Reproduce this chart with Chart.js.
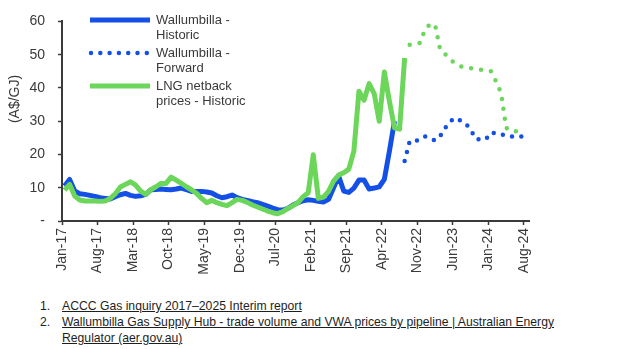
<!DOCTYPE html>
<html>
<head>
<meta charset="utf-8">
<script src="https://cdn.jsdelivr.net/npm/chart.js@4.4.1/dist/chart.umd.min.js"></script>
<style>
    body { margin: 0; background: #fff; }
    #wrap { position: relative; width: 620px; height: 349px; overflow: hidden; }
    #price-chart { position: absolute; left: 0; top: 0; }
    .notes {
        position: absolute; left: 0; top: 298px; width: 620px;
        font-family: "Liberation Sans", Arial, sans-serif; font-size: 12.2px; line-height: 16px;
        color: #1e1e1e;
    }
    .note { position: relative; padding-left: 62px; white-space: nowrap; }
    .note .num { position: absolute; left: 40px; }
    .note .ref { text-decoration: underline; }
</style>
</head>
<body>
<div id="wrap">
    <canvas id="price-chart" width="620" height="292"></canvas>
    <div class="notes">
        <div class="note"><span class="num">1.</span><span class="ref">ACCC Gas inquiry 2017–2025 Interim report</span></div>
        <div class="note"><span class="num">2.</span><span class="ref">Wallumbilla Gas Supply Hub - trade volume and VWA prices by pipeline | Australian Energy<br>Regulator (aer.gov.au)</span></div>
    </div>
</div>
<script>
// month index 0 = Jan-17, one tick label every 7 months
const tickLabels = ['Jan-17', 'Aug-17', 'Mar-18', 'Oct-18', 'May-19', 'Dec-19', 'Jul-20',
    'Feb-21', 'Sep-21', 'Apr-22', 'Nov-22', 'Jun-23', 'Jan-24', 'Aug-24'];
const yTicks = [0, 10, 20, 30, 40, 50, 60];

// monthly prices, A$/GJ
const wallumbillaHistoricStart = 0;
const wallumbillaHistoric = [
    10.5, 12.5, 9.0, 8.2, 8.0, 7.7, 7.4, 7.0, 6.8, 6.6,
    7.3, 7.9, 8.3, 7.7, 7.4, 7.6, 8.0, 9.4, 9.5, 9.6,
    9.5, 9.4, 9.6, 9.9, 9.4, 8.9, 8.9, 8.9, 8.7, 8.4,
    7.6, 7.0, 7.3, 7.8, 7.0, 6.5, 6.2, 5.8, 5.5, 5.0,
    4.5, 3.9, 3.4, 3.3, 3.8, 4.8, 5.5, 6.1, 6.4, 6.2,
    5.9, 5.7, 6.5, 10.0, 13.5, 9.0, 8.6, 9.9, 12.3, 12.3,
    9.6, 9.9, 10.3, 12.5, 21.0, 30.0
];
const wallumbillaForwardStart = 67;
const wallumbillaForward = [
    18.0, 24.0, 24.1, 24.4, 25.4, 24.8, 24.2, 25.5, 28.0, 30.0,
    31.0, 30.2, 29.3, 27.5, 24.7, 24.5, 24.6, 26.6, 26.3, 26.0,
    25.7, 25.4, 25.4, 25.4
];
const lngHistoricStart = 0;
const lngHistoric = [
    9.3, 11.0, 7.5, 6.3, 6.0, 6.0, 6.0, 5.9, 6.0, 6.8,
    8.2, 10.2, 11.0, 11.8, 10.8, 9.0, 8.0, 9.4, 10.3, 11.3,
    11.3, 13.2, 12.3, 11.3, 10.3, 9.4, 8.3, 6.8, 5.5, 6.2,
    5.5, 5.0, 4.6, 5.5, 6.5, 6.2, 5.6, 4.8, 4.2, 3.6,
    3.0, 2.5, 2.2, 2.8, 3.8, 4.6, 5.5, 7.3, 8.5, 19.9,
    6.8, 7.2, 8.9, 12.0, 13.8, 14.5, 15.6, 21.0, 39.0, 36.3,
    41.3, 38.3, 30.0, 44.8, 36.0, 28.0, 27.6, 49.0
];
const lngForwardStart = 68;
const lngForward = [
    53.0, 53.2, 53.5, 57.5, 59.2, 59.0, 51.5, 50.1, 48.5, 47.3,
    46.5, 46.1, 45.9, 45.7, 45.5, 45.3, 45.0, 42.0, 38.5, 28.0,
    27.0, 27.0, 27.0
];

const BLUE = '#1450e6';
const GREEN = '#6bd65a';
const AXIS = '#3a3a3a';
const FONT = '"Liberation Sans", Arial, sans-serif';

// values sit in the middle of their month
function toPoints(start, values) {
    return values.map((v, i) => ({x: start + i + 0.5, y: v}));
}

// two-line legend entries in the top left of the plot
const legendPlugin = {
    id: 'boxLegend',
    afterDraw(chart) {
        const ctx = chart.ctx;
        const entries = chart.data.datasets
            .filter(ds => ds.legendText)
            .sort((a, b) => a.legendRow - b.legendRow);
        ctx.save();
        ctx.font = '13px ' + FONT;
        ctx.fillStyle = AXIS;
        ctx.textBaseline = 'middle';
        entries.forEach((ds, row) => {
            const y = 20 + row * 33;
            ctx.beginPath();
            ctx.strokeStyle = ds.borderColor;
            ctx.lineWidth = ds.borderWidth;
            ctx.lineCap = ds.borderCapStyle || 'butt';
            ctx.setLineDash(ds.borderDash || []);
            ctx.moveTo(ds.borderDash ? 91 : 90, y);
            ctx.lineTo(150, y);
            ctx.stroke();
            ds.legendText.forEach((t, i) => ctx.fillText(t, 156, y + i * 15));
        });
        ctx.restore();
    }
};

const yTitlePlugin = {
    id: 'yTitle',
    afterDraw(chart) {
        const ctx = chart.ctx;
        ctx.save();
        ctx.translate(15, 99);
        ctx.rotate(-Math.PI / 2);
        ctx.font = '14px ' + FONT;
        ctx.fillStyle = AXIS;
        ctx.textAlign = 'center';
        ctx.textBaseline = 'middle';
        ctx.fillText('(A$/GJ)', 0, 0);
        ctx.restore();
    }
};

const ctx = document.getElementById('price-chart').getContext('2d');

new Chart(ctx, {
    type: 'line',
    data: {
        datasets: [
            {
                label: 'LNG netback prices - Historic',
                legendText: ['LNG netback', 'prices - Historic'],
                legendRow: 2,
                data: toPoints(lngHistoricStart, lngHistoric),
                borderColor: GREEN,
                borderWidth: 5,
                borderJoinStyle: 'round',
                order: 0
            },
            {
                label: 'LNG netback prices - Forward',
                data: toPoints(lngForwardStart, lngForward),
                borderColor: GREEN,
                borderWidth: 4.5,
                borderDash: [0, 10],
                borderCapStyle: 'round',
                order: 1
            },
            {
                label: 'Wallumbilla - Historic',
                legendText: ['Wallumbilla -', 'Historic'],
                legendRow: 0,
                data: toPoints(wallumbillaHistoricStart, wallumbillaHistoric),
                borderColor: BLUE,
                borderWidth: 5,
                borderJoinStyle: 'round',
                order: 2
            },
            {
                label: 'Wallumbilla - Forward',
                legendText: ['Wallumbilla -', 'Forward'],
                legendRow: 1,
                data: toPoints(wallumbillaForwardStart, wallumbillaForward),
                borderColor: BLUE,
                borderWidth: 4.5,
                borderDash: [0, 9.3],
                borderCapStyle: 'round',
                order: 3
            }
        ]
    },
    options: {
        responsive: false,
        animation: false,
        devicePixelRatio: 1,
        events: [],
        layout: {padding: {top: 12, right: 91, left: 0, bottom: 0}},
        elements: {
            point: {radius: 0},
            line: {tension: 0, fill: false}
        },
        plugins: {
            legend: {display: false},
            tooltip: {enabled: false}
        },
        scales: {
            x: {
                type: 'linear',
                min: 0,
                max: 92,
                afterBuildTicks: (scale) => {
                    scale.ticks = tickLabels.map((_, i) => ({value: i * 7}));
                },
                afterFit: (scale) => { scale.height = 71; },
                ticks: {
                    callback: (v) => tickLabels[Math.round(v / 7)],
                    minRotation: 90,
                    maxRotation: 90,
                    padding: 3,
                    color: AXIS,
                    font: {family: FONT, size: 14}
                },
                grid: {drawOnChartArea: false, tickLength: 4, tickColor: AXIS, tickWidth: 1.5},
                border: {display: true, color: AXIS, width: 2}
            },
            y: {
                min: 0,
                max: 60,
                afterBuildTicks: (scale) => {
                    scale.ticks = yTicks.map(v => ({value: v}));
                },
                afterFit: (scale) => { scale.width = 62; },
                ticks: {
                    callback: (v) => v === 0 ? '-' : v,
                    padding: 13,
                    color: AXIS,
                    font: {family: FONT, size: 14}
                },
                grid: {drawOnChartArea: false, tickLength: 4, tickColor: AXIS, tickWidth: 1.5},
                border: {display: true, color: AXIS, width: 2}
            }
        }
    },
    plugins: [legendPlugin, yTitlePlugin]
});
</script>
</body>
</html>
